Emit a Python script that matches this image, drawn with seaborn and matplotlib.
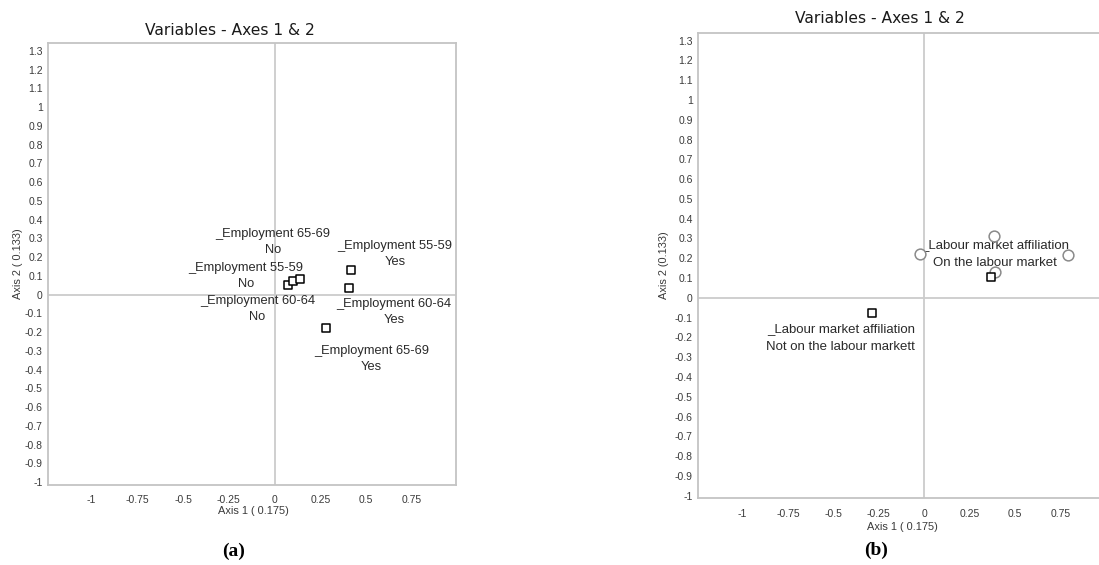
import matplotlib
matplotlib.use("Agg")
import matplotlib.pyplot as plt
import seaborn as sns
import pandas as pd

# ---------------- data ----------------
# Panel (a): squares
a_x = [0.072, 0.103, 0.139, 0.418, 0.407, 0.281]
a_y = [0.050, 0.072, 0.081, 0.130, 0.036, -0.178]
a_labels = ["_Employment 65-69\nNo", "_Employment 55-59\nNo", "_Employment 60-64\nNo",
            "_Employment 55-59\nYes", "_Employment 60-64\nYes", "_Employment 65-69\nYes"]
a_label_x = [-0.008, -0.156, -0.094, 0.659, 0.653, 0.531]
a_label_y = [0.280, 0.100, -0.077, 0.217, -0.093, -0.343]

# Panel (b): circles and squares
b_circ_x = [0.385, -0.024, 0.791, 0.388]
b_circ_y = [0.312, 0.221, 0.217, 0.131]
b_sq_x = [0.366, -0.286]
b_sq_y = [0.103, -0.079]
b_labels = ["_Labour market affiliation\nOn the labour market",
            "_Labour market affiliation\nNot on the labour markett"]
b_label_x = [0.388, -0.459]
b_label_y = [0.221, -0.204]

y_ticks = [-1, -0.9, -0.8, -0.7, -0.6, -0.5, -0.4, -0.3, -0.2, -0.1, 0,
           0.1, 0.2, 0.3, 0.4, 0.5, 0.6, 0.7, 0.8, 0.9, 1, 1.1, 1.2, 1.3]
y_tick_labels = ["-1", "-0.9", "-0.8", "-0.7", "-0.6", "-0.5", "-0.4", "-0.3", "-0.2", "-0.1", "0",
                 "0.1", "0.2", "0.3", "0.4", "0.5", "0.6", "0.7", "0.8", "0.9", "1", "1.1", "1.2", "1.3"]
x_ticks = [-1, -0.75, -0.5, -0.25, 0, 0.25, 0.5, 0.75]
x_tick_labels = ["-1", "-0.75", "-0.5", "-0.25", "0", "0.25", "0.5", "0.75"]

title_text = "Variables - Axes 1 & 2"
xlabel_text = "Axis 1 ( 0.175)"
ylabel_a = "Axis 2 ( 0.133)"
ylabel_b = "Axis 2 (0.133)"

# ---------------- style ----------------
sns.set_style("white")
plt.rcParams['font.family'] = ['Liberation Sans', 'DejaVu Sans']

W, H = 1099, 565
fig = plt.figure(figsize=(W / 100, H / 100), dpi=100)

def fx(px):
    return px / W

def fy(py):
    return 1 - py / H

spine_col = "#c4c4c4"
zero_col = "#cccccc"
txt_col = "#2a2a2a"
tick_col = "#3a3a3a"


def style_axes(ax, xlim, ylim, hide_right=False):
    ax.set_xlim(*xlim)
    ax.set_ylim(*ylim)
    ax.axhline(0, color=zero_col, lw=1.3, zorder=1)
    ax.axvline(0, color=zero_col, lw=1.3, zorder=1)
    ax.set_xticks(x_ticks)
    ax.set_xticklabels(x_tick_labels)
    ax.set_yticks(y_ticks)
    ax.set_yticklabels(y_tick_labels)
    ax.tick_params(axis="both", labelsize=7.5, labelcolor=tick_col, colors=spine_col,
                   length=2.5, width=0.8, direction="out")
    ax.tick_params(axis="y", pad=1.5)
    ax.tick_params(axis="x", pad=5)
    for s in ax.spines.values():
        s.set_color(spine_col)
        s.set_linewidth(1.3)
        s.set_visible(True)
    if hide_right:
        ax.spines["right"].set_visible(False)
    ax.set_xlabel("")
    ax.set_ylabel("")
    if ax.legend_:
        ax.legend_.remove()


# ---------------- panel (a) ----------------
axa = fig.add_axes([fx(48.3), fy(485), fx(456 - 48.3), (485 - 43.3) / H])
df_a = pd.DataFrame({"x": a_x, "y": a_y})
sns.scatterplot(data=df_a, x="x", y="y", ax=axa, marker="s", s=27,
                facecolor="white", edgecolor="black", linewidth=1.1, zorder=3)
style_axes(axa, (-1.237, 0.992), (-1.015, 1.34))
for lx, ly, lt in zip(a_label_x, a_label_y, a_labels):
    axa.text(lx, ly, lt, ha="center", va="center", fontsize=9.3, color=txt_col,
             linespacing=1.45, zorder=4)

# ---------------- panel (b) ----------------
axb = fig.add_axes([fx(698.2), fy(498.3), fx(1099 - 698.2), (498.3 - 32.7) / H])
df_bc = pd.DataFrame({"x": b_circ_x, "y": b_circ_y})
df_bs = pd.DataFrame({"x": b_sq_x, "y": b_sq_y})
sns.scatterplot(data=df_bc, x="x", y="y", ax=axb, marker="o", s=60,
                facecolor="white", edgecolor="#8a8a8a", linewidth=1.1, zorder=3)
sns.scatterplot(data=df_bs, x="x", y="y", ax=axb, marker="s", s=27,
                facecolor="white", edgecolor="black", linewidth=1.1, zorder=3)
style_axes(axb, (-1.243, 0.960), (-1.013, 1.34), hide_right=True)
for lx, ly, lt in zip(b_label_x, b_label_y, b_labels):
    axb.text(lx, ly, lt, ha="center", va="center", fontsize=9.5, color=txt_col,
             linespacing=1.6, zorder=2)

# ---------------- titles, axis labels, captions ----------------
fig.text(fx(230), fy(30.7), title_text, ha="center", va="center", fontsize=11.2,
         color="#1a1a1a", family=["DejaVu Sans"])
fig.text(fx(880), fy(18.3), title_text, ha="center", va="center", fontsize=11.2,
         color="#1a1a1a", family=["DejaVu Sans"])

fig.text(fx(253), fy(511), xlabel_text, ha="center", va="center", fontsize=7.9, color=tick_col)
fig.text(fx(902), fy(526.7), xlabel_text, ha="center", va="center", fontsize=7.9, color=tick_col)

fig.text(fx(18.3), fy(264), ylabel_a, ha="center", va="center", rotation=90,
         fontsize=7.9, color=tick_col)
fig.text(fx(664), fy(265), ylabel_b, ha="center", va="center", rotation=90,
         fontsize=7.9, color=tick_col)

fig.text(fx(234), fy(551), "(a)", ha="center", va="center", fontsize=14,
         fontweight="bold", color="black", family=["Liberation Serif", "DejaVu Serif"])
fig.text(fx(876), fy(550), "(b)", ha="center", va="center", fontsize=14,
         fontweight="bold", color="black", family=["Liberation Serif", "DejaVu Serif"])

fig.savefig("out.png", dpi=100, facecolor="white")
